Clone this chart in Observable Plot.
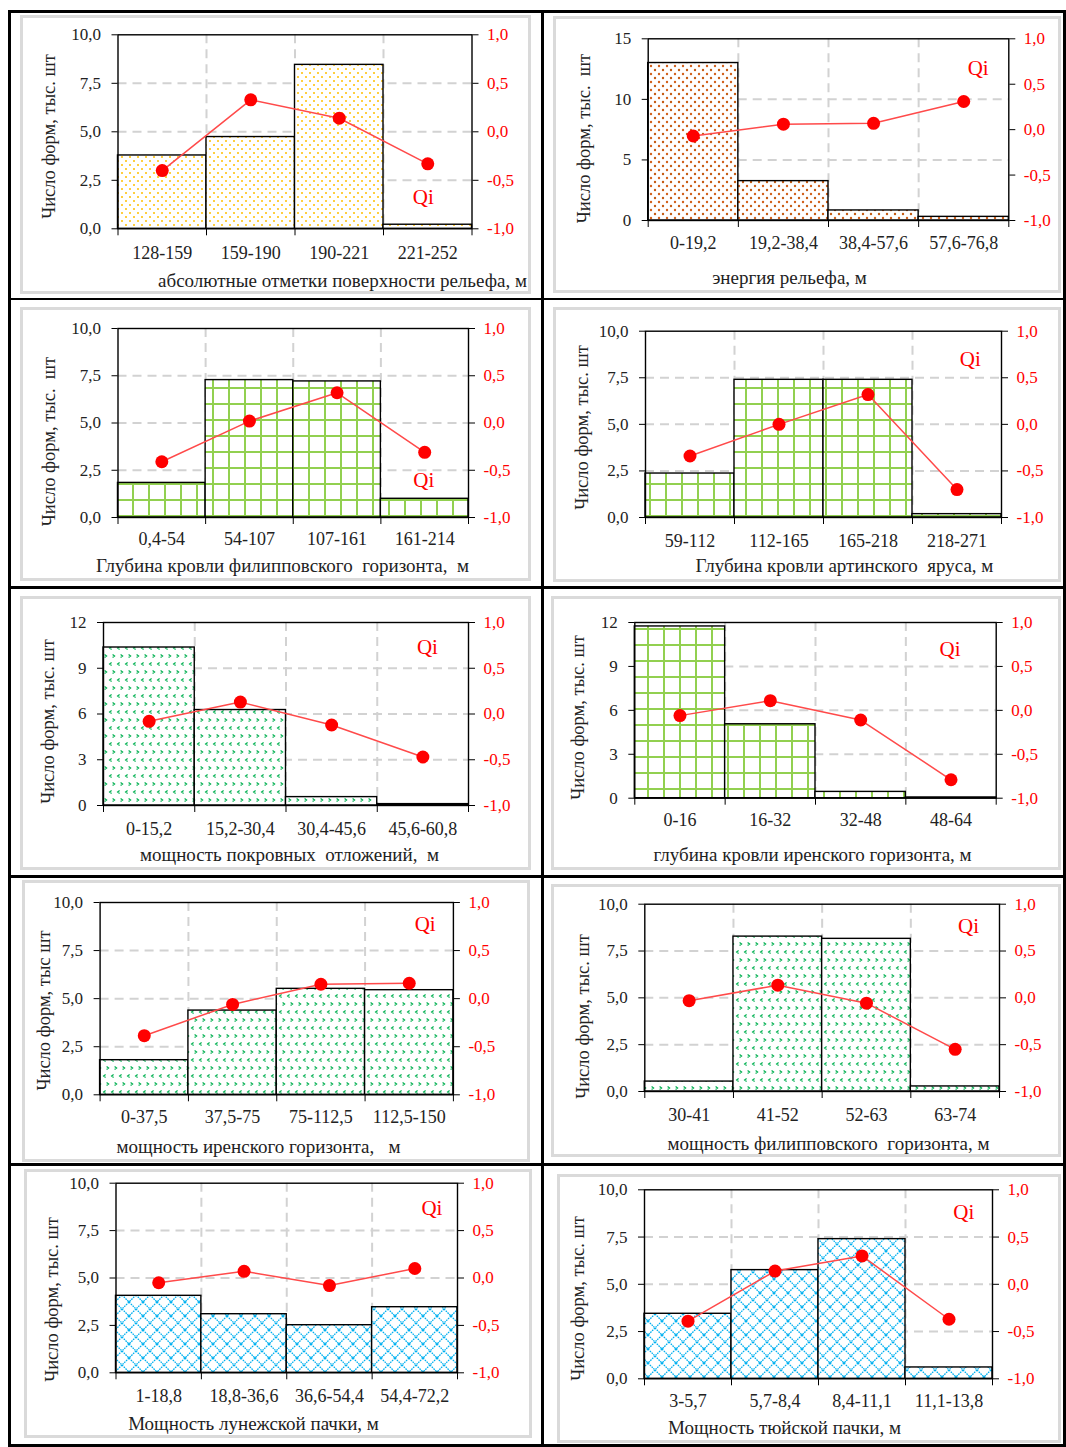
<!DOCTYPE html>
<html><head><meta charset="utf-8">
<script src="https://cdn.jsdelivr.net/npm/d3@7"></script>
<script src="https://cdn.jsdelivr.net/npm/@observablehq/plot@0.6"></script>
<style>
body{margin:0;background:#fff;width:1066px;height:1447px;position:relative;overflow:hidden;font-family:"Liberation Serif","Times New Roman",serif;}
.bl{position:absolute;background:#000;}
.panel{position:absolute;box-sizing:border-box;border:3px solid #dadada;}
.chart{position:absolute;}
</style></head><body>
<svg width="0" height="0" style="position:absolute">
<defs>
<pattern id="pGold" width="8" height="8" patternUnits="userSpaceOnUse">
<rect width="8" height="8" fill="#fff"/><circle cx="2" cy="2" r="1" fill="#ffc000"/><circle cx="6" cy="6" r="1" fill="#ffc000"/>
</pattern>
<pattern id="pOrange" width="8" height="8" patternUnits="userSpaceOnUse">
<rect width="8" height="8" fill="#fff"/><circle cx="2" cy="2" r="1.2" fill="#d2601a"/><circle cx="6" cy="6" r="1.2" fill="#c55a11"/>
</pattern>
<pattern id="pGrid" width="16" height="16" patternUnits="userSpaceOnUse">
<rect width="16" height="16" fill="#fff"/><rect width="16" height="2" fill="#92d050"/><rect width="2" height="16" fill="#92d050"/>
</pattern>
<pattern id="pDivot" width="8" height="16" patternUnits="userSpaceOnUse">
<rect width="8" height="16" fill="#fff"/>
<path d="M3.6,2.5L1.6,4L3.6,5.5" fill="none" stroke="#00b050" stroke-width="1.2"/>
<path d="M4.6,10.5L6.6,12L4.6,13.5" fill="none" stroke="#00b050" stroke-width="1.2"/>
</pattern>
<pattern id="pTrellis" width="14" height="14" patternUnits="userSpaceOnUse">
<rect width="14" height="14" fill="#fff"/>
<path d="M0,0L14,14M14,0L0,14" stroke="#00b0f0" stroke-width="1.3" stroke-dasharray="1.6,0.9"/>
<circle cx="7" cy="7" r="1" fill="#00b0f0"/>
</pattern>
</defs>
</svg>
<div id="root"></div>
<script>
// ---------- data ----------
const cats1 = ["128-159","159-190","190-221","221-252"];
const counts1 = [3.78, 4.73, 8.45, 0.21];
const qi1 = [-0.40, 0.33, 0.14, -0.33];
const xTitle1 = "абсолютные отметки поверхности рельефа, м";

const cats2 = ["0-19,2","19,2-38,4","38,4-57,6","57,6-76,8"];
const counts2 = [13.0, 3.25, 0.83, 0.3];
const qi2 = [-0.07, 0.06, 0.07, 0.31];
const xTitle2 = "энергия рельефа, м";

const cats3 = ["0,4-54","54-107","107-161","161-214"];
const counts3 = [1.83, 7.27, 7.2, 0.99];
const qi3 = [-0.41, 0.02, 0.32, -0.31];
const xTitle3 = "Глубина кровли филипповского\u00a0 горизонта,\u00a0 м";

const cats4 = ["59-112","112-165","165-218","218-271"];
const counts4 = [2.36, 7.39, 7.39, 0.18];
const qi4 = [-0.34, 0.0, 0.32, -0.70];
const xTitle4 = "Глубина кровли артинского\u00a0 яруса, м";

const cats5 = ["0-15,2","15,2-30,4","30,4-45,6","45,6-60,8"];
const counts5 = [10.36, 6.26, 0.55, 0.09];
const qi5 = [-0.08, 0.13, -0.12, -0.47];
const xTitle5 = "мощность покровных\u00a0 отложений,\u00a0 м";

const cats6 = ["0-16","16-32","32-48","48-64"];
const counts6 = [11.73, 5.05, 0.43, 0.05];
const qi6 = [-0.06, 0.11, -0.11, -0.79];
const xTitle6 = "глубина кровли иренского горизонта, м";

const cats7 = ["0-37,5","37,5-75","75-112,5","112,5-150"];
const counts7 = [1.8, 4.38, 5.51, 5.44];
const qi7 = [-0.385, -0.06, 0.15, 0.16];
const xTitle7 = "мощность иренского горизонта,\u00a0\u00a0 м";

const cats8 = ["30-41","41-52","52-63","63-74"];
const counts8 = [0.53, 8.27, 8.15, 0.27];
const qi8 = [-0.03, 0.135, -0.057, -0.55];
const xTitle8 = "мощность филипповского\u00a0 горизонта, м";

const cats9 = ["1-18,8","18,8-36,6","36,6-54,4","54,4-72,2"];
const counts9 = [4.06, 3.09, 2.51, 3.46];
const qi9 = [-0.05, 0.07, -0.08, 0.10];
const xTitle9 = "Мощность лунежской пачки, м";

const cats10 = ["3-5,7","5,7-8,4","8,4-11,1","11,1-13,8"];
const counts10 = [3.44, 5.75, 7.39, 0.6];
const qi10 = [-0.39, 0.14, 0.30, -0.37];
const xTitle10 = "Мощность тюйской пачки, м";

const yTitleA = "Число форм, тыс. шт";
const yTitleB = "Число форм, тыс.\u00a0 шт";
const yTitleC = "Число форм, тыс шт";

const ticks10 = [0, 2.5, 5, 7.5, 10];
const ticks15 = [0, 5, 10, 15];
const ticks12 = [0, 3, 6, 9, 12];
const qiTicks = [-1, -0.5, 0, 0.5, 1];
const qiLabel = "Qi";

// ---------- assemble (data + layout kept separate) ----------
const datasets = [
  {cats: cats1, counts: counts1, qi: qi1, xTitle: xTitle1, yTitle: yTitleA, yTicks: ticks10, dec: 1, pattern: "pGold"},
  {cats: cats2, counts: counts2, qi: qi2, xTitle: xTitle2, yTitle: yTitleB, yTicks: ticks15, dec: 0, pattern: "pOrange"},
  {cats: cats3, counts: counts3, qi: qi3, xTitle: xTitle3, yTitle: yTitleB, yTicks: ticks10, dec: 1, pattern: "pGrid"},
  {cats: cats4, counts: counts4, qi: qi4, xTitle: xTitle4, yTitle: yTitleA, yTicks: ticks10, dec: 1, pattern: "pGrid"},
  {cats: cats5, counts: counts5, qi: qi5, xTitle: xTitle5, yTitle: yTitleA, yTicks: ticks12, dec: 0, pattern: "pDivot"},
  {cats: cats6, counts: counts6, qi: qi6, xTitle: xTitle6, yTitle: yTitleA, yTicks: ticks12, dec: 0, pattern: "pGrid"},
  {cats: cats7, counts: counts7, qi: qi7, xTitle: xTitle7, yTitle: yTitleC, yTicks: ticks10, dec: 1, pattern: "pDivot"},
  {cats: cats8, counts: counts8, qi: qi8, xTitle: xTitle8, yTitle: yTitleA, yTicks: ticks10, dec: 1, pattern: "pDivot"},
  {cats: cats9, counts: counts9, qi: qi9, xTitle: xTitle9, yTitle: yTitleA, yTicks: ticks10, dec: 1, pattern: "pTrellis"},
  {cats: cats10, counts: counts10, qi: qi10, xTitle: xTitle10, yTitle: yTitleA, yTicks: ticks10, dec: 1, pattern: "pTrellis"}
];

// layout: rect = panel box, plot = plot frame, cat = label centre offset, xt = x-title centre, yt = y-title centre, ql = Qi label in data space
const layout = [
  {rect:[20,15,531,294],   plot:[117.5,34.3,471.5,228.3],  cat:23.7, xt:[342,280],  yt:[49,136],   ql:[3.45,1.63]},
  {rect:[553,16,1061,293], plot:[647.7,38.3,1008.3,220],   cat:22,   xt:[789,277],  yt:[584,138],  ql:[3.66,12.6]},
  {rect:[20,307,531,581],  plot:[117.5,328,468,517],       cat:21.5, xt:[282,565],  yt:[49,441],   ql:[3.49,1.96]},
  {rect:[553,307,1061,582],plot:[645,330.7,1001,517],      cat:23,   xt:[844,565],  yt:[582,427],  ql:[3.65,8.5]},
  {rect:[20,596,531,870],  plot:[103,622,468,805],         cat:23,   xt:[289,854],  yt:[48,721],   ql:[3.55,10.36]},
  {rect:[551,596,1061,870],plot:[634.3,622,995.7,797.7],   cat:21.3, xt:[812,854],  yt:[578,717],  ql:[3.49,10.2]},
  {rect:[22,880,530,1162], plot:[99.6,902,452.9,1094.3],   cat:21.7, xt:[258,1146], yt:[44,1010],  ql:[3.68,8.86]},
  {rect:[551,884,1061,1157],plot:[644.3,903.7,999,1091],   cat:23,   xt:[828,1143], yt:[583,1016], ql:[3.65,8.8]},
  {rect:[24,1169,532,1438],plot:[115.5,1182.7,457,1372.3], cat:22.7, xt:[253,1423], yt:[52,1299],  ql:[3.7,8.67]},
  {rect:[557,1174,1061,1443],plot:[644,1189.3,992,1378.3], cat:21.7, xt:[784,1427], yt:[578,1298], ql:[3.67,8.8]}
];

function fmt(v, d) {
  let s = (Math.round(v * Math.pow(10, d)) / Math.pow(10, d)).toFixed(d).replace(".", ",");
  if (/^-0(,0+)?$/.test(s)) s = s.slice(1);
  return s;
}

const root = document.getElementById("root");

// table lines
const lines = [
  [8, 10, 3, 1436], [1063, 10, 3, 1436], [541, 10, 2.5, 1436],
  [8, 10, 1058, 2.6], [8, 297.5, 1058, 2.5], [8, 586, 1058, 2.5],
  [8, 875, 1058, 2.5], [8, 1163, 1058, 2.5], [8, 1444, 1058, 2.6]
];
for (const [x, y, w, h] of lines) {
  const d = document.createElement("div");
  d.className = "bl";
  Object.assign(d.style, {left: x + "px", top: y + "px", width: w + "px", height: h + "px"});
  root.appendChild(d);
}

datasets.forEach((D, k) => {
  const L = layout[k];
  const [rl, rt, rr, rb] = L.rect, [pl, pt, pr, pb] = L.plot;
  const n = D.cats.length;
  const ymax = D.yTicks[D.yTicks.length - 1];
  const toL = q => (q + 1) / 2 * ymax, fromL = v => v / ymax * 2 - 1;
  const rows = D.cats.map((c, i) => ({c, i, n: D.counts[i], q: D.qi[i]}));
  const grid = {stroke: "#d2d2d2", strokeOpacity: 1, strokeWidth: 2, strokeDasharray: "9,6"};
  const box = document.createElement("div");
  box.className = "panel";
  Object.assign(box.style, {left: rl + "px", top: rt + "px", width: (rr - rl) + "px", height: (rb - rt) + "px"});
  root.appendChild(box);

  const chart = Plot.plot({
    width: rr - rl, height: rb - rt,
    marginLeft: pl - rl, marginRight: rr - pr, marginTop: pt - rt, marginBottom: rb - pb,
    x: {domain: [0, n]},
    y: {domain: [0, ymax]},
    style: {fontFamily: "'Liberation Serif', 'Times New Roman', serif", fontSize: "17px", background: "transparent", color: "#222", overflow: "visible"},
    marks: [
      Plot.gridX({ticks: d3.range(1, n), ...grid}),
      Plot.gridY({ticks: D.yTicks.filter(v => v > 0 && v < ymax), ...grid}),
      Plot.rect(rows, {x1: d => d.i, x2: d => d.i + 1, y1: () => 0, y2: d => d.n, fill: `url(#${D.pattern})`, stroke: "#000", strokeWidth: 1.4}),
      Plot.frame({stroke: "#000", strokeWidth: 1.4}),
      Plot.line(rows, {x: d => d.i + 0.5, y: d => toL(d.q), stroke: "#ff4a4a", strokeWidth: 1.5}),
      Plot.dot(rows, {x: d => d.i + 0.5, y: d => toL(d.q), r: 6.5, fill: "#ff0000"}),
      Plot.text([qiLabel], {x: () => L.ql[0], y: () => L.ql[1], text: d => d, fill: "#ff0000", fontSize: 21}),
      Plot.axisY({anchor: "left", ticks: D.yTicks, tickFormat: v => fmt(v, D.dec), tickSize: 6, tickPadding: 11, label: null, fill: "#222", stroke: "#000", fontSize: 17}),
      Plot.axisY({anchor: "right", ticks: qiTicks.map(toL), tickFormat: v => fmt(fromL(v), 1), tickSize: 6, tickPadding: 9, label: null, fill: "#ff0000", stroke: "#000", fontSize: 17}),
      Plot.axisX({anchor: "bottom", ticks: d3.range(0, n + 1), tickFormat: () => "", tickSize: 7, label: null, stroke: "#000"}),
      Plot.axisX({anchor: "bottom", ticks: rows.map(d => d.i + 0.5), tickFormat: v => D.cats[Math.floor(v)], tickSize: 0, tickPadding: L.cat - 6.5, label: null, fill: "#222", fontSize: 18}),
      Plot.text([D.xTitle], {frameAnchor: "bottom", text: d => d, textAnchor: "middle", lineAnchor: "middle", dx: L.xt[0] - (pl + pr) / 2, dy: L.xt[1] - pb, fill: "#222", fontSize: 19}),
      Plot.text([D.yTitle], {frameAnchor: "left", text: d => d, textAnchor: "middle", lineAnchor: "middle", rotate: -90, dx: L.yt[0] - pl, dy: L.yt[1] - (pt + pb) / 2, fill: "#222", fontSize: 18.5})
    ]
  });
  chart.classList.add("chart");
  Object.assign(chart.style, {position: "absolute", left: rl + "px", top: rt + "px"});
  root.appendChild(chart);
});
</script>
</body></html>
